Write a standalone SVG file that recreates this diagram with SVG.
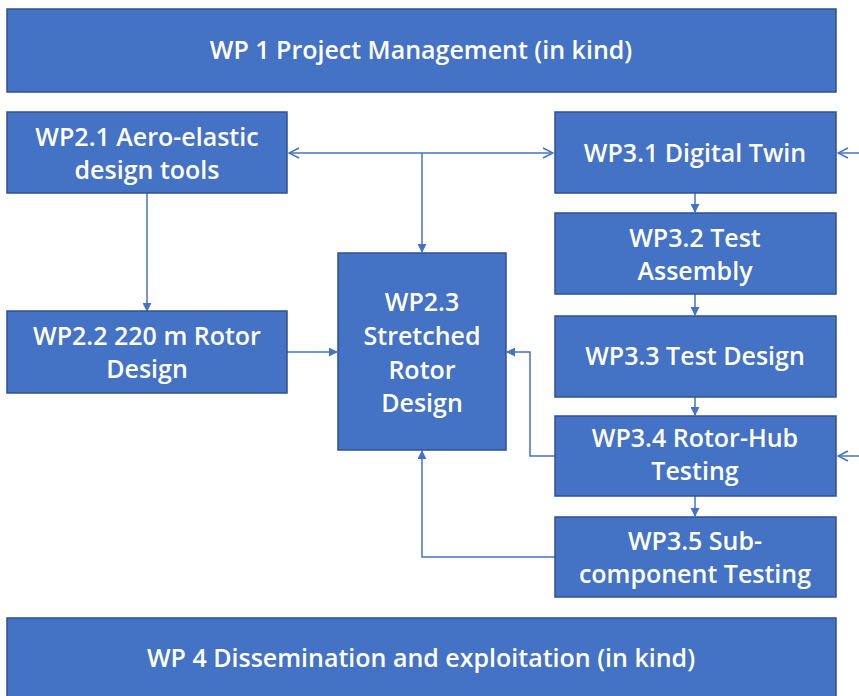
<svg xmlns="http://www.w3.org/2000/svg" width="859" height="696" viewBox="0 0 859 696">
<style>
.box{fill:#4472C4;stroke:#2F528F;stroke-width:1.5}
.t{font-family:"Open Sans","Liberation Sans",sans-serif;font-size:25px;font-weight:600;fill:#ffffff;text-anchor:middle}
.c{fill:none;stroke:#4472C4;stroke-width:1.5}
</style>
<defs>
<marker id="open" viewBox="0 0 12 12" refX="11" refY="6" markerWidth="12" markerHeight="12" markerUnits="userSpaceOnUse" orient="auto-start-reverse">
<path d="M1,1 L11,6 L1,11" fill="none" stroke="#4472C4" stroke-width="1.5"/>
</marker>
<marker id="tri" viewBox="0 0 10 10" refX="9" refY="5" markerWidth="9" markerHeight="9" markerUnits="userSpaceOnUse" orient="auto">
<path d="M0,0 L10,5 L0,10 z" fill="#4472C4"/>
</marker>
</defs>
<rect width="859" height="696" fill="#ffffff"/>
<g id="connectors">
<line class="c" x1="289" y1="153" x2="553" y2="153" marker-start="url(#open)" marker-end="url(#open)"/>
<line class="c" x1="422" y1="153" x2="422" y2="252" marker-end="url(#tri)"/>
<line class="c" x1="147" y1="193" x2="147" y2="311" marker-end="url(#tri)"/>
<line class="c" x1="287" y1="352" x2="337" y2="352" marker-end="url(#tri)"/>
<line class="c" x1="695" y1="193" x2="695" y2="212" marker-end="url(#tri)"/>
<line class="c" x1="695" y1="294" x2="695" y2="315" marker-end="url(#tri)"/>
<line class="c" x1="695" y1="397" x2="695" y2="415" marker-end="url(#tri)"/>
<line class="c" x1="695" y1="496" x2="695" y2="516" marker-end="url(#tri)"/>
<polyline class="c" points="555,456 530,456 530,352 507,352" marker-end="url(#tri)"/>
<polyline class="c" points="555,557 422,557 422,451" marker-end="url(#tri)"/>
<line class="c" x1="859" y1="153" x2="838" y2="153" marker-end="url(#open)"/>
<line class="c" x1="859" y1="456" x2="838" y2="456" marker-end="url(#open)"/>
</g>
<g id="wp1"><rect class="box" x="7" y="9" width="829" height="83"/><text class="t" x="421" y="59">WP 1 Project Management (in kind)</text></g>
<g id="wp21"><rect class="box" x="7" y="112" width="280" height="81"/><text class="t" x="147" y="146">WP2.1 Aero-elastic</text><text class="t" x="147" y="179">design tools</text></g>
<g id="wp22"><rect class="box" x="7" y="311" width="280" height="82"/><text class="t" x="147" y="345">WP2.2 220 m Rotor</text><text class="t" x="147" y="378">Design</text></g>
<g id="wp23"><rect class="box" x="338" y="253" width="168" height="197"/><text class="t" x="422" y="311">WP2.3</text><text class="t" x="422" y="345">Stretched</text><text class="t" x="422" y="379">Rotor</text><text class="t" x="422" y="412">Design</text></g>
<g id="wp31"><rect class="box" x="555" y="112" width="281" height="81"/><text class="t" x="695" y="162">WP3.1 Digital Twin</text></g>
<g id="wp32"><rect class="box" x="555" y="213" width="281" height="81"/><text class="t" x="695" y="247">WP3.2 Test</text><text class="t" x="695" y="280">Assembly</text></g>
<g id="wp33"><rect class="box" x="555" y="316" width="281" height="81"/><text class="t" x="695" y="365">WP3.3 Test Design</text></g>
<g id="wp34"><rect class="box" x="555" y="416" width="281" height="80"/><text class="t" x="695" y="447">WP3.4 Rotor-Hub</text><text class="t" x="695" y="480">Testing</text></g>
<g id="wp35"><rect class="box" x="555" y="517" width="281" height="80"/><text class="t" x="695" y="550">WP3.5 Sub-</text><text class="t" x="695" y="583">component Testing</text></g>
<g id="wp4"><rect class="box" x="7" y="618" width="829" height="80"/><text class="t" x="421" y="667">WP 4 Dissemination and exploitation (in kind)</text></g>
</svg>
